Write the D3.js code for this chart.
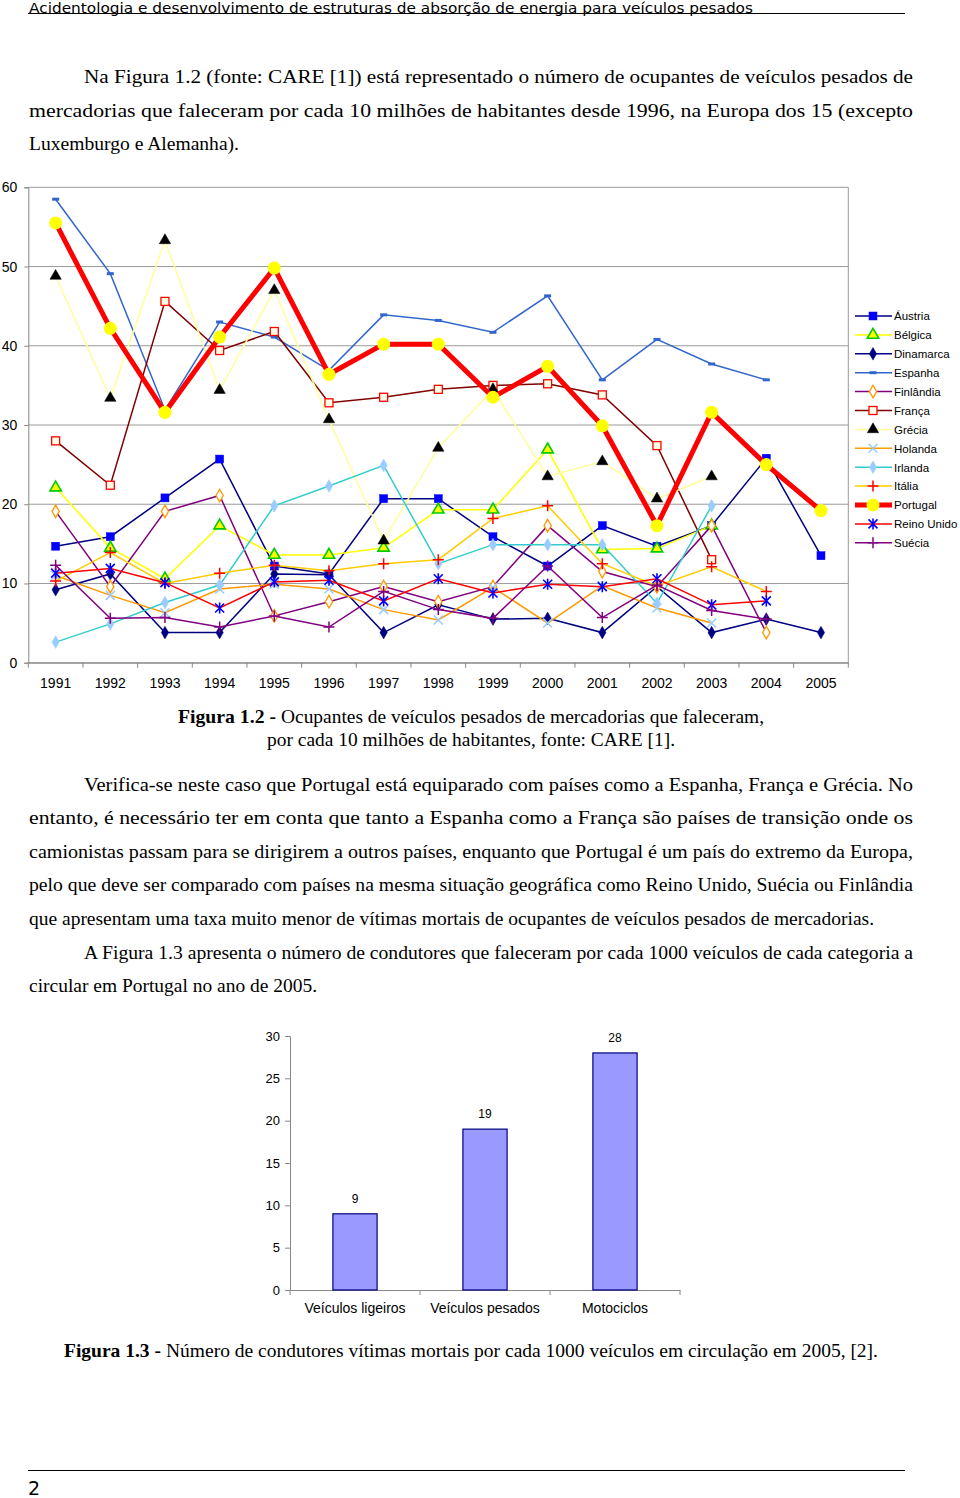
<!DOCTYPE html>
<html><head><meta charset="utf-8">
<script src="https://cdn.jsdelivr.net/npm/d3@7"></script>
<style>body{margin:0;background:#fff}svg{display:block}</style>
</head><body><svg id="page" width="960" height="1498"></svg>
<script>
// ---------- DATA ----------
const years = ["1991","1992","1993","1994","1995","1996","1997","1998","1999","2000","2001","2002","2003","2004","2005"];
const lineTicks = [0,10,20,30,40,50,60];
const countries = ["Áustria","Bélgica","Dinamarca","Espanha","Finlândia","França","Grécia","Holanda","Irlanda","Itália","Portugal","Reino Unido","Suécia"];
const austria   = [14.7,15.9,20.8,25.7,12.2,11.2,20.7,20.7,15.9,12.2,17.3,14.7,17.3,25.8,13.5];
const belgica   = [22.1,14.5,10.6,17.3,13.6,13.6,14.5,19.3,19.3,26.9,14.3,14.4,17.3,null,null];
const dinamarca = [9.2,11.2,3.8,3.8,11.2,11.1,3.8,7.3,5.5,5.6,3.8,9.6,3.8,5.5,3.8];
const espanha   = [58.5,49.1,31.9,43.0,41.1,36.9,43.9,43.2,41.7,46.3,35.7,40.8,37.7,35.7,null];
const finlandia = [19.1,9.6,19.1,21.1,5.9,7.7,9.6,7.7,9.6,17.3,11.5,9.6,17.3,3.8,null];
const franca    = [28.0,22.4,45.6,39.4,41.8,32.8,33.5,34.5,35.0,35.2,33.8,27.4,13.0,null,null];
const grecia    = [48.8,33.4,53.3,34.4,47.0,30.7,15.4,27.1,34.5,23.5,25.4,20.7,23.5,null,null];
const holanda   = [11.0,8.5,6.3,9.3,9.9,9.3,6.7,5.4,9.5,5.0,9.7,6.9,5.0,null,null];
const irlanda   = [2.6,4.9,7.6,9.8,19.8,22.3,24.9,12.5,14.9,14.9,14.9,7.5,19.8,null,null];
const italia    = [10.3,13.9,10.0,11.3,12.3,11.6,12.5,13.0,18.2,19.8,12.5,9.7,12.1,9.0,null];
const portugal  = [55.5,42.2,31.6,41.1,49.8,36.4,40.2,40.2,33.5,37.4,29.9,17.3,31.6,25.0,19.2];
const reinoUnido= [11.3,11.9,10.1,6.9,10.2,10.4,7.8,10.6,8.8,9.9,9.6,10.6,7.3,7.8,null];
const suecia    = [12.3,5.6,5.7,4.5,5.9,4.5,9.0,6.7,5.6,12.2,5.7,9.8,6.6,5.5,null];
const seriesValues = [austria,belgica,dinamarca,espanha,finlandia,franca,grecia,holanda,irlanda,italia,portugal,reinoUnido,suecia];

const barCategories = ["Veículos ligeiros","Veículos pesados","Motociclos"];
const barValues = [9,19,28];
const barTicks = [0,5,10,15,20,25,30];

// ---------- STYLES ----------
const styles = {
  "Áustria":    {line:"#000080", w:1.5, m:"square",   fill:"#0000FF", stroke:"#0000FF"},
  "Bélgica":    {line:"#FFFF00", w:1.5, m:"triangle", fill:"#FFFF00", stroke:"#00CC00"},
  "Dinamarca":  {line:"#000080", w:1.5, m:"diamond",  fill:"#000080", stroke:"#000080"},
  "Espanha":    {line:"#3366CC", w:1.5, m:"dash",     fill:"#3366CC", stroke:"#3366CC"},
  "Finlândia":  {line:"#800080", w:1.5, m:"odiamond", fill:"#FFFFFF", stroke:"#FF9900"},
  "França":     {line:"#800000", w:1.5, m:"osquare",  fill:"#FFFFE8", stroke:"#FF0000"},
  "Grécia":     {line:"#FFFF99", w:1.5, m:"triangle", fill:"#000000", stroke:"#000000"},
  "Holanda":    {line:"#FF9900", w:1.5, m:"x",        fill:"none",    stroke:"#99CCFF"},
  "Irlanda":    {line:"#33CCCC", w:1.5, m:"diamond",  fill:"#99CCFF", stroke:"#99CCFF"},
  "Itália":     {line:"#FFCC00", w:1.5, m:"plus",     fill:"none",    stroke:"#FF0000"},
  "Portugal":   {line:"#FF0000", w:5,   m:"circle",   fill:"#FFFF00", stroke:"#FFFF00"},
  "Reino Unido":{line:"#FF0000", w:1.5, m:"asterisk", fill:"none",    stroke:"#0000FF"},
  "Suécia":     {line:"#800080", w:1.5, m:"plus",     fill:"none",    stroke:"#800080"}
};

const svg = d3.select("#page");
svg.append("rect").attr("width",960).attr("height",1498).attr("fill","#fff");

// ---------- PAGE TEXT ----------
const serif = "'Liberation Serif','Times New Roman',serif";
function tline(x, y, str, len, opts={}) {
  const t = svg.append("text").attr("x",x).attr("y",y).text(str)
    .attr("font-family", opts.family || serif).attr("font-size", opts.size || 19)
    .attr("font-weight", opts.weight || "normal").attr("fill","#000");
  if (len) t.attr("textLength",len).attr("lengthAdjust","spacingAndGlyphs");
  return t;
}
// header
tline(29, 12.5, "Acidentologia e desenvolvimento de estruturas de absorção de energia para veículos pesados", 724, {family:"'DejaVu Sans','Liberation Sans',sans-serif", size:14});
svg.append("line").attr("x1",28).attr("x2",905).attr("y1",13.5).attr("y2",13.5).attr("stroke","#000").attr("stroke-width",1);

// paragraph 1
tline(84, 83, "Na Figura 1.2 (fonte: CARE [1]) está representado o número de ocupantes de veículos pesados de", 829);
tline(29, 117, "mercadorias que faleceram por cada 10 milhões de habitantes desde 1996, na Europa dos 15 (excepto", 884);
tline(29, 150, "Luxemburgo e Alemanha).", 210);

// caption 1.2
tline(178, 723, "Figura 1.2 -", 98, {weight:"bold"});
tline(281, 723, "Ocupantes de veículos pesados de mercadorias que faleceram,", 483);
tline(267, 746, "por cada 10 milhões de habitantes, fonte: CARE [1].", 408);

// paragraph 2
tline(84, 791, "Verifica-se neste caso que Portugal está equiparado com países como a Espanha, França e Grécia. No", 829);
tline(29, 824, "entanto, é necessário ter em conta que tanto a Espanha como a França são países de transição onde os", 884);
tline(29, 858, "camionistas passam para se dirigirem a outros países, enquanto que Portugal é um país do extremo da Europa,", 884);
tline(29, 891, "pelo que deve ser comparado com países na mesma situação geográfica como Reino Unido, Suécia ou Finlândia", 884);
tline(29, 925, "que apresentam uma taxa muito menor de vítimas mortais de ocupantes de veículos pesados de mercadorias.", 845);
tline(84, 959, "A Figura 1.3 apresenta o número de condutores que faleceram por cada 1000 veículos de cada categoria a", 829);
tline(29, 992, "circular em Portugal no ano de 2005.", 288);

// caption 1.3
tline(64, 1357, "Figura 1.3 -", 97, {weight:"bold"});
tline(166, 1357, "Número de condutores vítimas mortais por cada 1000 veículos em circulação em 2005, [2].", 712);

// footer
svg.append("line").attr("x1",28).attr("x2",905).attr("y1",1470.5).attr("y2",1470.5).attr("stroke","#000").attr("stroke-width",1);
svg.append("text").attr("x",28).attr("y",1495).text("2").attr("font-family","'DejaVu Sans',sans-serif").attr("font-size",19);

// ---------- LINE CHART ----------
const sans = "Arial,'Liberation Sans',sans-serif";
const L = {left:28.3, right:848.3, top:187.3, bottom:662.7};
const xb = d3.scaleBand().domain(years).range([L.left, L.right]);
const xc = d => xb(d) + xb.bandwidth()/2;
const y = d3.scaleLinear().domain([0,60]).range([L.bottom, L.top]);

const lc = svg.append("g");
lc.append("g").selectAll("line").data(lineTicks).join("line")
  .attr("x1",L.left).attr("x2",L.right).attr("y1",d=>y(d)).attr("y2",d=>y(d))
  .attr("stroke","#9a9a9a").attr("stroke-width",1);
lc.append("line").attr("x1",L.right).attr("x2",L.right).attr("y1",L.top).attr("y2",L.bottom)
  .attr("stroke","#9a9a9a").attr("stroke-width",1);

const ya = lc.append("g").attr("transform",`translate(${L.left},0)`)
  .call(d3.axisLeft(y).tickValues(lineTicks).tickSize(4).tickPadding(7).tickFormat(d3.format("d")));
ya.select(".domain").attr("stroke","#888");
ya.selectAll(".tick line").attr("stroke","#888");
ya.selectAll("text").attr("font-family",sans).attr("font-size",14).attr("fill","#000");

const xa = lc.append("g").attr("transform",`translate(0,${L.bottom})`)
  .call(d3.axisBottom(xb).tickSize(0).tickPadding(15));
xa.select(".domain").attr("stroke","#888");
xa.selectAll("text").attr("font-family",sans).attr("font-size",14).attr("fill","#000");
const bounds = years.map(d=>xb(d)).concat([xb(years[years.length-1]) + xb.bandwidth()]);
lc.append("g").selectAll("line").data(bounds).join("line")
  .attr("x1",d=>d).attr("x2",d=>d).attr("y1",L.bottom).attr("y2",L.bottom+5)
  .attr("stroke","#888");

function marker(g, kind, cx, cy, st) {
  switch(kind) {
    case "square":
    case "osquare":
      g.append("rect").attr("x",cx-4).attr("y",cy-4).attr("width",8).attr("height",8)
        .attr("fill",st.fill).attr("stroke",st.stroke).attr("stroke-width",kind==="osquare"?1.3:0.5); break;
    case "triangle":
      g.append("path").attr("d",d3.symbol(d3.symbolTriangle,56)()).attr("transform",`translate(${cx},${cy})`)
        .attr("fill",st.fill).attr("stroke",st.stroke).attr("stroke-width",st.stroke==="#000000"?0.5:1.6); break;
    case "diamond":
    case "odiamond":
      g.append("path").attr("d",d3.symbol(d3.symbolDiamond,46)()).attr("transform",`translate(${cx},${cy})`)
        .attr("fill",st.fill).attr("stroke",st.stroke).attr("stroke-width",kind==="odiamond"?1.3:0.5); break;
    case "dash":
      g.append("rect").attr("x",cx-3.5).attr("y",cy-1.5).attr("width",7).attr("height",3).attr("fill",st.fill); break;
    case "circle":
      g.append("circle").attr("cx",cx).attr("cy",cy).attr("r",6.5).attr("fill",st.fill); break;
    case "plus":
      g.append("path").attr("d",`M${cx-5.5},${cy}H${cx+5.5}M${cx},${cy-5.5}V${cy+5.5}`)
        .attr("stroke",st.stroke).attr("stroke-width",1.5).attr("fill","none"); break;
    case "x":
      g.append("path").attr("d",`M${cx-4.5},${cy-4.5}L${cx+4.5},${cy+4.5}M${cx-4.5},${cy+4.5}L${cx+4.5},${cy-4.5}`)
        .attr("stroke",st.stroke).attr("stroke-width",1.5).attr("fill","none"); break;
    case "asterisk":
      g.append("path").attr("d",`M${cx-4.5},${cy-4.5}L${cx+4.5},${cy+4.5}M${cx-4.5},${cy+4.5}L${cx+4.5},${cy-4.5}M${cx},${cy-5.5}V${cy+5.5}`)
        .attr("stroke",st.stroke).attr("stroke-width",1.6).attr("fill","none"); break;
  }
}

const line = d3.line().defined(d=>d.v!=null).x(d=>xc(d.year)).y(d=>y(d.v));
countries.forEach((name,i) => {
  const st = styles[name];
  const pts = seriesValues[i].map((v,j)=>({year:years[j], v}));
  const g = lc.append("g");
  g.append("path").attr("d",line(pts)).attr("fill","none").attr("stroke",st.line)
    .attr("stroke-width",st.w).attr("stroke-linejoin","miter");
  pts.filter(p=>p.v!=null).forEach(p => marker(g, st.m, xc(p.year), y(p.v), st));
});

// legend
const lg = svg.append("g");
countries.forEach((name,i) => {
  const st = styles[name];
  const ly = 316 + i*18.9;
  lg.append("line").attr("x1",855).attr("x2",892).attr("y1",ly).attr("y2",ly)
    .attr("stroke",st.line).attr("stroke-width",st.w);
  marker(lg, st.m, 873, ly, st);
  lg.append("text").attr("x",894).attr("y",ly+4.3).text(name)
    .attr("font-family",sans).attr("font-size",11.5).attr("fill","#000");
});

// ---------- BAR CHART ----------
const B = {left:290, right:680, top:1036, bottom:1290};
const bx = d3.scaleBand().domain(barCategories).range([B.left,B.right]).paddingInner(0.66).paddingOuter(0.33);
const by = d3.scaleLinear().domain([0,30]).range([B.bottom,B.top]);
const bc = svg.append("g");
const bya = bc.append("g").attr("transform",`translate(${B.left},0)`)
  .call(d3.axisLeft(by).tickValues(barTicks).tickSize(5).tickPadding(5));
bya.select(".domain").attr("stroke","#888");
bya.selectAll(".tick line").attr("stroke","#888");
bya.selectAll("text").attr("font-family",sans).attr("font-size",13).attr("fill","#000");
const bxa = bc.append("g").attr("transform",`translate(0,${B.bottom})`)
  .call(d3.axisBottom(bx).tickSize(0).tickPadding(13));
bxa.select(".domain").attr("stroke","#888");
bxa.selectAll("text").attr("font-family",sans).attr("font-size",14).attr("fill","#000");
const step = bx.step();
const bBounds = [B.left].concat(barCategories.map((c,i)=>B.left + step*(i+1)));
bc.append("g").selectAll("line").data(bBounds).join("line")
  .attr("x1",d=>d).attr("x2",d=>d).attr("y1",B.bottom).attr("y2",B.bottom+5).attr("stroke","#888");
bc.append("g").selectAll("rect").data(barValues).join("rect")
  .attr("x",(d,i)=>bx(barCategories[i])).attr("width",bx.bandwidth())
  .attr("y",d=>by(d)).attr("height",d=>by(0)-by(d))
  .attr("fill","#9999FF").attr("stroke","#000080").attr("stroke-width",1.2);
bc.append("g").selectAll("text").data(barValues).join("text")
  .attr("x",(d,i)=>bx(barCategories[i])+bx.bandwidth()/2).attr("y",d=>by(d)-11)
  .attr("text-anchor","middle").text(d=>d)
  .attr("font-family",sans).attr("font-size",12).attr("fill","#000");
</script></body></html>
